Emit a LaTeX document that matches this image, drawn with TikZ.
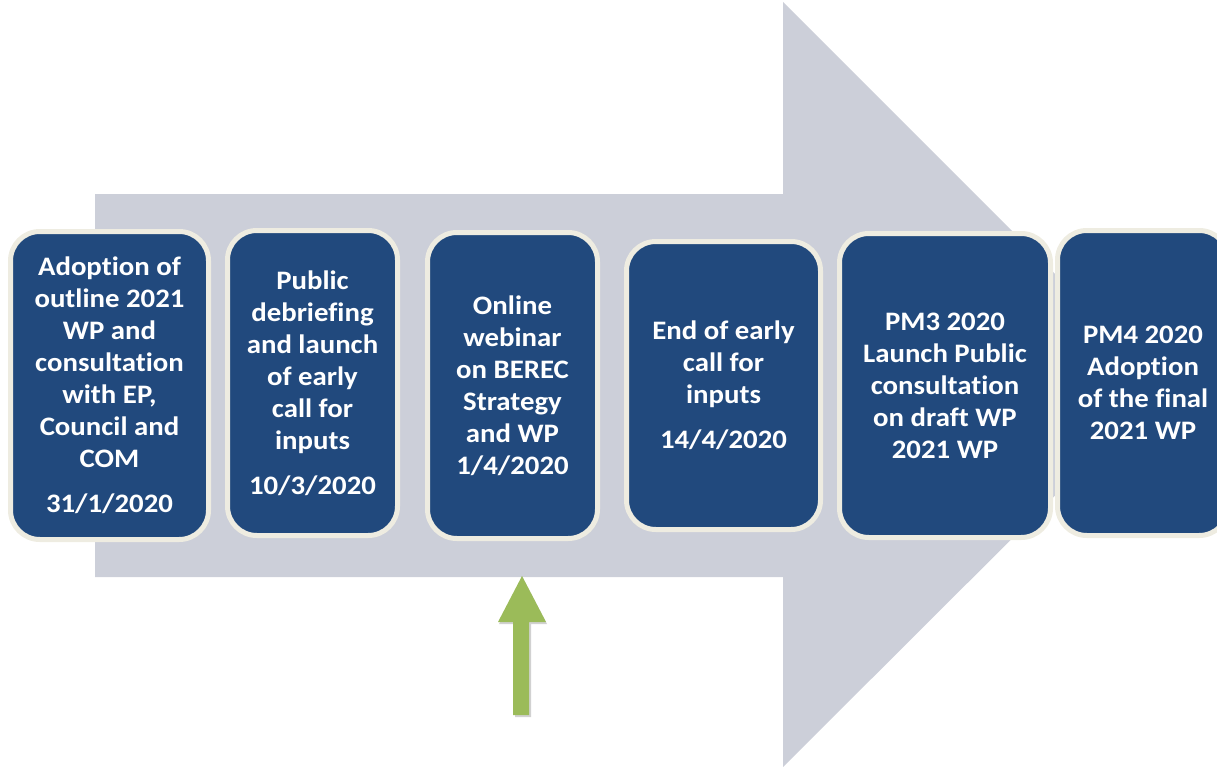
\documentclass[tikz,border=0pt]{standalone}
\usepackage{fontspec}
\setmainfont{Carlito}[FakeStretch=1.08,Ligatures=NoCommon]
\usetikzlibrary{positioning,arrows,calc}
\definecolor{stageblue}{RGB}{33,73,125}
\definecolor{stagerim}{RGB}{238,236,225}
\definecolor{flowgrey}{RGB}{204,207,217}
\definecolor{markgreen}{RGB}{155,187,89}
\tikzset{
    >=latex',
    stage/.style = {
        draw=stagerim,
        fill=stageblue,
        shape=rectangle,
        rounded corners=22pt,
        line width=3.75pt,
        inner sep=0pt,
        align=center,
        text=white,
        font=\fontsize{20}{24}\selectfont\bfseries
    },
    flow/.style = {
        fill=flowgrey
    },
    marker/.style = {
        fill=markgreen
    }
}

\begin{document}
\begin{tikzpicture}[x=0.75pt,y=-0.75pt]
    \useasboundingbox (0,0) rectangle (1217,767);

    \fill[flow] (95,194) -- (783,194) -- (783,2) -- (1166,385) -- (783,767) -- (783,577) -- (95,577) -- cycle;

    \node[stage, minimum width=148.5pt, minimum height=231pt] (outline) at (109.5,385.5)
        {Adoption of\\outline 2021\\WP and\\consultation\\with EP,\\Council and\\COM\\[10pt]31/1/2020};
    \node[stage, minimum width=127.5pt, minimum height=228.75pt] (debrief) at (312.5,383)
        {Public\\debriefing\\and launch\\of early\\call for\\inputs\\[10pt]10/3/2020};
    \node[stage, minimum width=127.5pt, minimum height=229.5pt] (webinar) at (512.5,385.5)
        {Online\\webinar\\on BEREC\\Strategy\\and WP\\1/4/2020};
    \node[stage, minimum width=145.5pt, minimum height=216pt] (callend) at (723.5,385.5)
        {End of early\\call for\\inputs\\[10pt]14/4/2020};
    \node[stage, minimum width=158.25pt, minimum height=228pt] (pmthree) at (945,385.5)
        {PM3 2020\\Launch Public\\consultation\\on draft WP\\2021 WP};
    \node[stage, minimum width=128.25pt, minimum height=228.75pt] (pmfour) at (1143,383)
        {PM4 2020\\Adoption\\of the final\\2021 WP};

    \fill[black, opacity=0.18] (499,624) -- (523,578) -- (547,624) -- (531,624) -- (531,717) -- (515,717) -- (515,624) -- cycle;
    \fill[marker] (498,622) -- (522,576) -- (546,622) -- (529,622) -- (529,715) -- (513,715) -- (513,622) -- cycle;
\end{tikzpicture}
\end{document}
